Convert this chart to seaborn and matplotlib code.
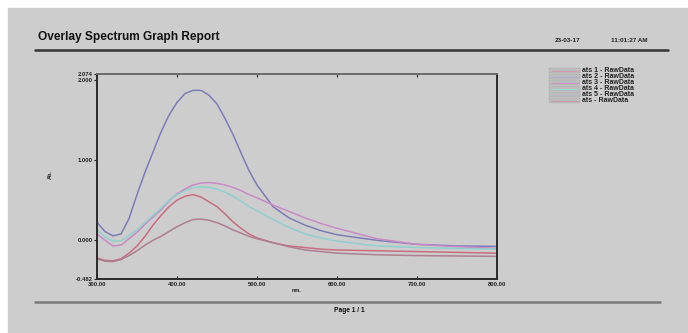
import matplotlib
matplotlib.use('Agg')
import matplotlib.pyplot as plt
from matplotlib.patches import Rectangle
from matplotlib.lines import Line2D
import seaborn as sns
import pandas as pd

# data
wavelength = [300, 310, 320, 330, 340, 350, 360, 370, 380, 390, 400, 410, 420, 430, 440,
              450, 460, 470, 480, 490, 500, 520, 540, 560, 580, 600, 650, 700, 750, 800]
blue = [0.225, 0.11, 0.055, 0.08, 0.27, 0.57, 0.85, 1.10, 1.35, 1.56, 1.72, 1.83, 1.87, 1.87, 1.81,
        1.70, 1.52, 1.32, 1.09, 0.87, 0.69, 0.42, 0.28, 0.19, 0.12, 0.07, 0.0, -0.05, -0.07, -0.075]
pink = [0.08, 0.0, -0.07, -0.06, 0.02, 0.10, 0.20, 0.29, 0.38, 0.49, 0.58, 0.64, 0.69, 0.715, 0.72,
        0.71, 0.69, 0.66, 0.62, 0.57, 0.53, 0.44, 0.36, 0.28, 0.21, 0.15, 0.02, -0.05, -0.08, -0.10]
cyan = [0.13, 0.04, -0.01, -0.005, 0.06, 0.13, 0.22, 0.31, 0.40, 0.50, 0.57, 0.62, 0.655, 0.667, 0.66,
        0.64, 0.60, 0.55, 0.49, 0.42, 0.37, 0.26, 0.16, 0.08, 0.03, -0.01, -0.07, -0.09, -0.10, -0.11]
red = [-0.22, -0.25, -0.255, -0.23, -0.16, -0.07, 0.05, 0.19, 0.31, 0.42, 0.50, 0.55, 0.57, 0.54, 0.48,
       0.42, 0.33, 0.23, 0.15, 0.08, 0.03, -0.03, -0.07, -0.09, -0.11, -0.12, -0.13, -0.14, -0.15, -0.16]
brown = [-0.23, -0.26, -0.265, -0.24, -0.19, -0.13, -0.06, 0.0, 0.05, 0.11, 0.17, 0.22, 0.26, 0.265, 0.25,
         0.22, 0.18, 0.13, 0.09, 0.05, 0.02, -0.03, -0.08, -0.12, -0.14, -0.16, -0.18, -0.19, -0.195, -0.20]

series_names = ['blue', 'pink', 'cyan', 'red', 'brown']
series_colors = ['#7d7db6', '#c98ac6', '#8fd0cf', '#c86e80', '#ad7f90']

legend_labels = ['ats 1 - RawData', 'ats 2 - RawData', 'ats 3 - RawData',
                 'ats 4 - RawData', 'ats 5 - RawData', 'ats - RawData']
legend_colors = ['#d39ab4', '#a9b0cc', '#cc96c8', '#9fd4d4', '#b9b9c4', '#c49aa8']

yticks = [-0.482, 0.0, 1.0, 2.0, 2.074]
xticks = [300, 400, 500, 600, 700, 800]

bg = '#cdcdcd'
sns.set_style('white', {'axes.facecolor': bg})
plt.rcParams['font.family'] = ['Liberation Sans', 'DejaVu Sans']

df = pd.DataFrame({'nm': wavelength * 5,
                   'ab': blue + pink + cyan + red + brown,
                   'series': sum([[n] * len(wavelength) for n in series_names], [])})

W, H = 688, 333
fig = plt.figure(figsize=(6.88, 3.33), dpi=100)
fig.patch.set_facecolor('white')
fig.patches.append(Rectangle((8 / W, 0), 1, 1 - 8 / H, transform=fig.transFigure,
                             color=bg, zorder=-10))

ax = fig.add_axes([97 / W, 1 - 279 / H, 400 / W, 205 / H])
ax.set_facecolor(bg)
sns.lineplot(data=df, x='nm', y='ab', hue='series', palette=series_colors,
             hue_order=series_names, legend=False, linewidth=1.1, ax=ax)

ax.set_xlim(300, 800)
ax.set_ylim(-0.482, 2.074)
ax.set_xticks(xticks)
ax.set_xticklabels(['%.2f' % v for v in xticks])
ax.set_yticks(yticks)
ax.set_yticklabels(['%.3f' % v for v in yticks])
ax.set_xlabel('')
ax.set_ylabel('')
ax.tick_params(axis='x', direction='in', top=True, bottom=True, length=2.5, width=0.8,
               labelsize=4.2, pad=2, colors='#222')
ax.tick_params(axis='y', direction='out', left=True, length=2, width=0.8,
               labelsize=4.2, pad=1, colors='#222')
for lab in ax.get_xticklabels() + ax.get_yticklabels():
    lab.set_fontweight('bold')
for side in ['left', 'bottom', 'right']:
    ax.spines[side].set_linewidth(1.4)
    ax.spines[side].set_color('#2a2a2a')
ax.spines['top'].set_linewidth(1.4)
ax.spines['top'].set_color('#6a6a6a')

def fx(x):
    return x / W

def fy(y):
    return 1 - y / H

fig.text(fx(38), fy(37), 'Overlay Spectrum Graph Report', fontsize=8.6, weight='bold',
         va='center', color='#111')
fig.add_artist(Line2D([fx(35), fx(668)], [fy(50), fy(50)], lw=1.8, color='#333'))
fig.text(fx(555), fy(40), '23-03-17', fontsize=4.6, weight='bold', va='center', color='#222')
fig.text(fx(611), fy(40), '11:01:27 AM', fontsize=4.6, weight='bold', va='center', color='#222')

fig.text(fx(50), fy(175), 'Ab.', fontsize=4, weight='bold', rotation=90,
         ha='center', va='center', color='#222')
fig.text(fx(297), fy(290), 'nm.', fontsize=4, weight='bold', ha='center', va='center', color='#222')

fig.add_artist(Line2D([fx(35), fx(660)], [fy(302), fy(302)], lw=1.8, color='#7a7a7a'))
fig.text(fx(349), fy(310), 'Page 1 / 1', fontsize=4.8, weight='bold', ha='center',
         va='center', color='#111')

# legend at top right
for i, (lab, col) in enumerate(zip(legend_labels, legend_colors)):
    yc = 70.7 + i * 6
    fig.patches.append(Rectangle((fx(549), fy(yc + 2.3)), 31 / W, 4.6 / H,
                                 transform=fig.transFigure, fc='#bdbdbd', ec='#aaaaaa',
                                 lw=0.3, zorder=2))
    fig.add_artist(Line2D([fx(551), fx(578)], [fy(yc), fy(yc)], lw=0.8, color=col, zorder=3))
    fig.text(fx(582), fy(yc), lab, fontsize=5, weight='bold', va='center', color='#222')

fig.savefig('out.png', dpi=100, facecolor=fig.get_facecolor())
